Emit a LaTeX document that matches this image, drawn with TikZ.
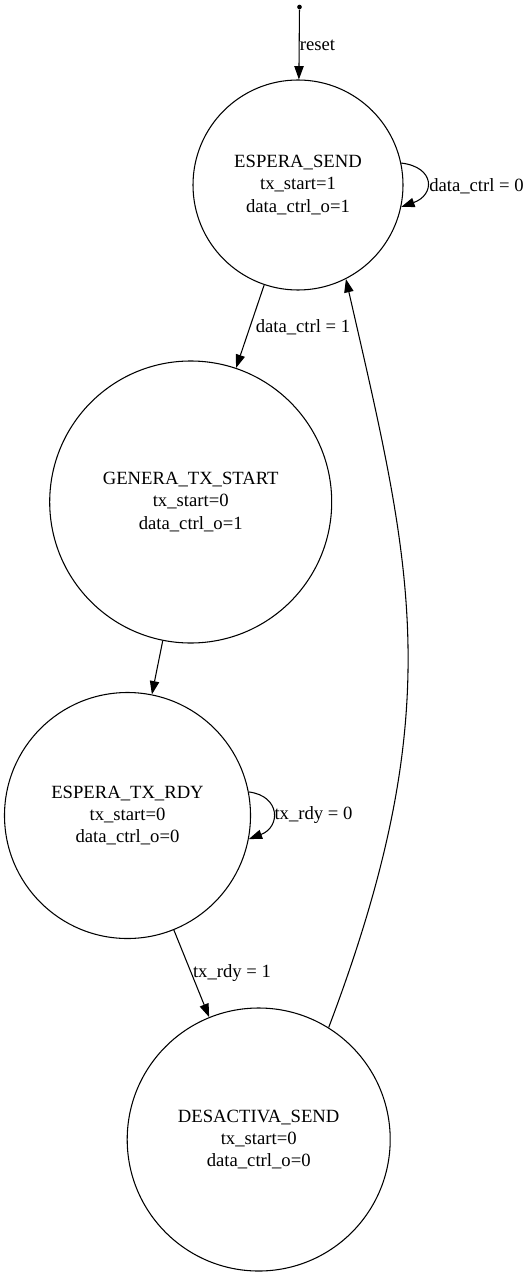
\documentclass[tikz,border=0pt]{standalone}
\usepackage{fontspec}
\setmainfont{Liberation Serif}
\usepackage{tikz}
\usetikzlibrary{shapes,arrows.meta,positioning}
\tikzstyle{state}=[circle, draw, align=center, line width=0.8pt, inner sep=0pt]
\tikzstyle{initdot}=[circle, fill=black, inner sep=0pt, minimum size=3.5pt]
\tikzstyle{lbl}=[inner sep=0pt]
\tikzstyle{edge}=[-{Triangle[length=10pt,width=7pt]}, line width=0.8pt]

\begin{document}
\begin{tikzpicture}[x=0.75pt, y=-0.75pt, every node/.style = {font=\fontsize{14}{16.8}\selectfont}]
\useasboundingbox (0,0) rectangle (529,1276);

\node[initdot] (rst) at (299.5,7) {};
\node[state, minimum size=157.5pt] (s0) at (298,185) {ESPERA\_SEND \\ tx\_start=1 \\ data\_ctrl\_o=1};
\node[state, minimum size=211.5pt] (s1) at (190.7,502) {GENERA\_TX\_START \\ tx\_start=0 \\ data\_ctrl\_o=1};
\node[state, minimum size=184.5pt] (s2) at (127.5,815.5) {ESPERA\_TX\_RDY \\ tx\_start=0 \\ data\_ctrl\_o=0};
\node[state, minimum size=197.25pt] (s3) at (258.7,1139.5) {DESACTIVA\_SEND \\ tx\_start=0 \\ data\_ctrl\_o=0};

\node[lbl] (l0) at (317.5,45) {reset};
\node[lbl] (l1) at (476.5,186) {data\_ctrl = 0};
\node[lbl] (l2) at (303,327) {data\_ctrl = 1};
\node[lbl] (l3) at (313.5,815) {tx\_rdy = 0};
\node[lbl] (l4) at (232,973) {tx\_rdy = 1};

\draw[edge] (rst) -- (s0);
\draw[edge] (s0.12) .. controls +(34,4) and +(34,-12) .. (s0.-12);
\draw[edge] (s0) -- (s1);
\draw[edge] (s1) -- (s2);
\draw[edge] (s2.11) .. controls +(32,4) and +(32,-12) .. (s2.-11);
\draw[edge] (s2) -- (s3);
\draw[edge] (s3.58) .. controls (450,707) and (412,568) .. (s0.-63);

\end{tikzpicture}
\end{document}
